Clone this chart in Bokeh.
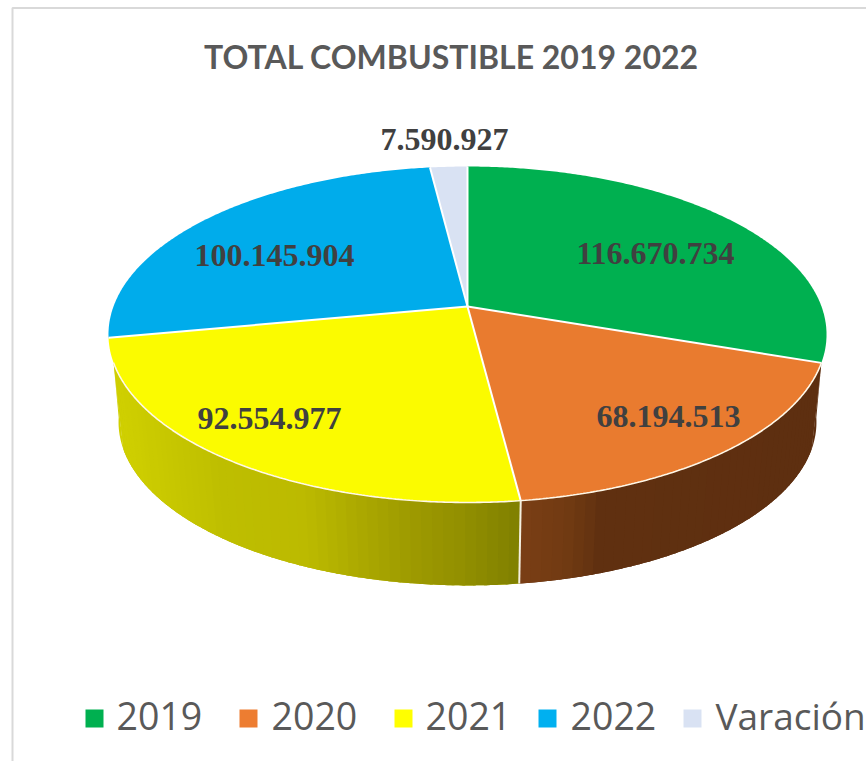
import numpy as np
from bokeh.plotting import figure
from bokeh.models import Range1d
from bokeh.core.properties import value
from bokeh.embed import file_html
from bokeh.resources import INLINE

# ---- data ----
title_text = "TOTAL COMBUSTIBLE 2019 2022"
categories = ["2019", "2020", "2021", "2022", "Varación"]
values = [116670734, 68194513, 92554977, 100145904, 7590927]
value_labels = ["116.670.734", "68.194.513", "92.554.977", "100.145.904", "7.590.927"]

# ---- styles / layout ----
colors = ["#00B050", "#E97B2F", "#FBFB00", "#00ACEB", "#D9E2F3"]
legend_colors = ["#00B050", "#ED7D31", "#FFFF00", "#00B0F0", "#D9E2F3"]
label_x = [655, 668, 269, 274, 444]
label_y = [253, 416, 418, 255, 139]
legend_swatch_left = [85, 239, 394, 538, 683]
legend_text_left = [116, 271, 425, 570, 715]
legend_text_size = ["37.5px", "37.5px", "37.5px", "37.5px", "37px"]
CX, CY, A, B, K = 467.0, 306.0, 354.0, 163.3, 0.1667   # perspective pie top
VY, S = 3464.0, 0.972                                  # vanishing point of the wall
WALL_LIMIT = 109.0                                     # rim shows a wall beyond this angle
SILHOUETTE_LIMIT = 98.0                                # lower curve runs on to this angle
wall_stops = {
    2: ([112, 220, 300, 400, 460, 518], ["#D0D000", "#BEBE00", "#BCBA00", "#A09C00", "#928F00", "#808000"]),
    1: ([520, 570, 600, 820], ["#7A3F15", "#703A12", "#603010", "#5E2F10"]),
}


def top(theta_deg):
    t = np.radians(theta_deg)
    w = 1 + K * np.cos(t)
    return CX + A * np.sin(t) / w, CY - B * np.cos(t) / w


def bottom(theta_deg):
    x, y = top(theta_deg)
    return CX + S * (x - CX), VY + S * (y - VY)


def hex_rgb(h):
    return np.array([int(h[i:i + 2], 16) for i in (1, 3, 5)], dtype=float)


def wall_color(idx, x):
    xs, cs = wall_stops[idx]
    rgb = np.array([hex_rgb(c) for c in cs])
    c = [np.interp(x, xs, rgb[:, j]) for j in range(3)]
    return "#%02x%02x%02x" % tuple(int(round(v)) for v in c)


fractions = np.array(values, dtype=float) / sum(values)
edges = np.concatenate([[0.0], np.cumsum(fractions) * 360.0])

p = figure(width=866, height=761, output_backend="svg", toolbar_location=None,
           x_range=Range1d(0, 866), y_range=Range1d(761, 0),
           min_border=0, x_axis_type=None, y_axis_type=None,
           background_fill_color="white", border_fill_color="white")
p.grid.visible = False
p.outline_line_color = None

# chart frame (left and top only are visible in the reference)
p.line([12, 12, 866], [761, 7.5, 7.5], line_color="#D9D9D9", line_width=2)

# side wall: overlapping strips on a base shape, so no seams show
for i in range(len(values)):
    lo = max(edges[i], WALL_LIMIT)
    hi = min(edges[i + 1], 360.0 - WALL_LIMIT)
    if hi <= lo or i not in wall_stops:
        continue
    th = np.linspace(lo, hi, int(hi - lo) * 2 + 2)
    xa, ya = top(th)
    xb, yb = bottom(th)
    p.patch(list(xa) + list(xb[::-1]), list(ya) + list(yb[::-1]),
            fill_color=wall_color(i, float(np.mean(xa))), line_color=None)
    th = np.linspace(lo, hi, max(int((hi - lo) / 1.5), 2) + 1)
    xs_w, ys_w, cs_w = [], [], []
    for a, b in zip(th[:-1], th[1:]):
        arc = np.linspace(a, min(b + 0.4, hi), 5)
        xa, ya = top(arc)
        xb, yb = bottom(arc)
        xs_w.append(list(xa) + list(xb[::-1]))
        ys_w.append(list(ya) + list(yb[::-1]))
        cs_w.append(wall_color(i, float(np.mean(xa))))
    p.patches(xs_w, ys_w, fill_color=cs_w, line_color=None)

    # rounded silhouette at the two ends of the visible wall
    for start, stop, end_x in ((WALL_LIMIT, SILHOUETTE_LIMIT, 820), (360 - WALL_LIMIT, 360 - SILHOUETTE_LIMIT, 112)):
        if not (lo - 0.5 <= start <= hi + 0.5):
            continue
        arc = np.linspace(start, stop, 12)
        xb, yb = bottom(arc)
        xt, yt = top(start)
        p.patch([xt] + list(xb), [yt] + list(yb), fill_color=wall_color(i, end_x), line_color=None)

# top slices
xs_t, ys_t = [], []
for i in range(len(values)):
    th = np.linspace(edges[i], edges[i + 1], max(int(edges[i + 1] - edges[i]) * 2, 8))
    x, y = top(th)
    xs_t.append([CX] + list(x))
    ys_t.append([CY] + list(y))
p.patches(xs_t, ys_t, fill_color=colors, line_color=None)

# dividers and rim
div_x = [[CX, top(e)[0]] for e in edges[:-1]]
div_y = [[CY, top(e)[1]] for e in edges[:-1]]
p.multi_line(div_x, div_y, line_color="#FFFFFF", line_width=2)
th = np.linspace(WALL_LIMIT, 360 - WALL_LIMIT, 300)
p.line(top(th)[0], top(th)[1], line_color="#FFF8E8", line_width=1.6)
for e in edges[1:-1]:
    if WALL_LIMIT + 1 < e < 360 - WALL_LIMIT - 1:
        p.line([top(e)[0], bottom(e)[0]], [top(e)[1], bottom(e)[1]],
               line_color="#F4EFE0", line_width=2)

# value labels
p.text(label_x, label_y, text=value_labels, text_align="center", text_baseline="alphabetic",
       text_font=value("Liberation Serif"), text_font_style="bold",
       text_font_size="32px", text_color="#404040")

# title
p.text([451], [56], text=[title_text], text_align="center", text_baseline="alphabetic",
       text_font=value("Lato"), text_font_style="bold",
       text_font_size="32px", text_color="#595959")

# legend
sw_w, sw_top, sw_bot = 18, 709, 727
p.quad(left=legend_swatch_left, right=[v + sw_w for v in legend_swatch_left],
       top=[sw_top] * 5, bottom=[sw_bot] * 5, fill_color=legend_colors, line_color=None)
for lx, name, size in zip(legend_text_left, categories, legend_text_size):
    p.text([lx], [715], text=[name], text_align="left", text_baseline="alphabetic",
           text_font=value("Open Sans"), text_font_size=size, text_color="#595959")

open("out.html", "w").write(file_html(p, INLINE))
